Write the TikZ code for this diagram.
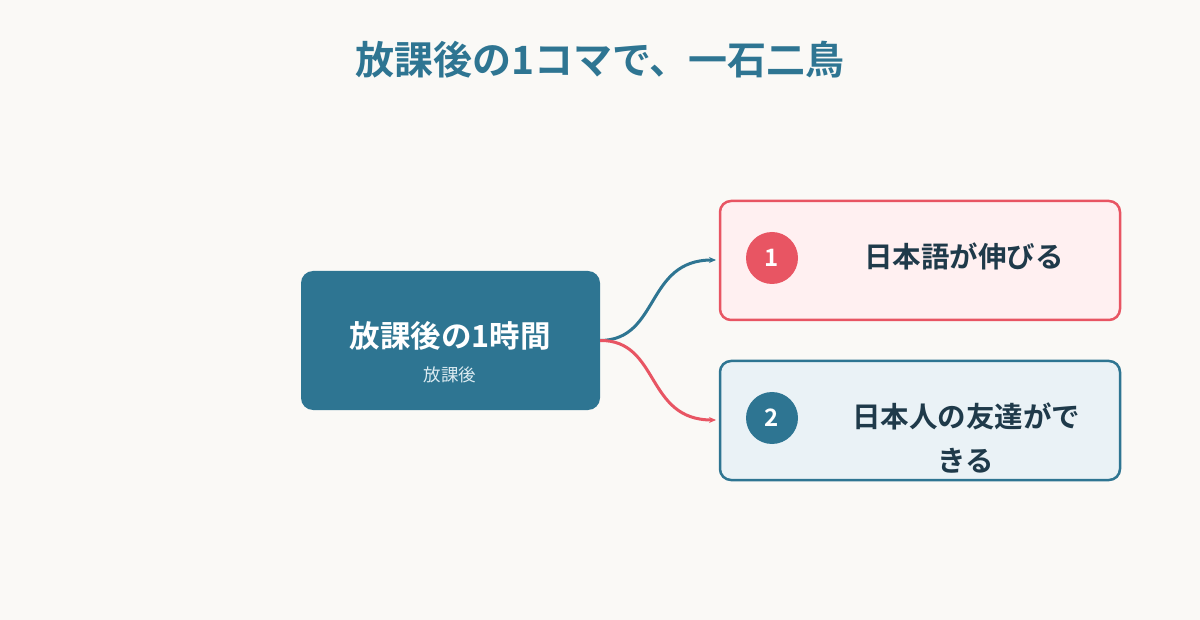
\documentclass[tikz,border=0pt]{standalone}
\usepackage{fontspec}
\newfontfamily\jp{Noto Sans CJK JP}[BoldFont={* Bold}]
\usetikzlibrary{arrows.meta}
\definecolor{bg}{HTML}{FAF9F6}
\definecolor{teal}{HTML}{2E7592}
\definecolor{red}{HTML}{E85563}
\definecolor{pinkfill}{HTML}{FFF0F1}
\definecolor{bluefill}{HTML}{EAF2F6}
\definecolor{ink}{HTML}{1F3A4A}
\definecolor{subtxt}{HTML}{DCEBF1}
\tikzset{
  mainbox/.style={fill=teal, rounded corners=12pt, minimum width=299pt, minimum height=139pt, inner sep=0pt},
  itembox/.style={line width=2.5pt, rounded corners=11pt, minimum width=400pt, minimum height=119pt, inner sep=0pt},
  badge/.style={circle, minimum size=52pt, inner sep=0pt, text=white, font=\jp\bfseries\fontsize{24}{28}\selectfont},
  itemtext/.style={text=ink, align=center, font=\jp\bfseries\fontsize{28.5}{44}\selectfont},
  conn/.style={line width=3pt, -{Stealth[length=7pt,width=6pt]}}
}
\begin{document}
\begin{tikzpicture}[x=1pt,y=-1pt]
\fill[bg] (0,0) rectangle (1200,620);
\useasboundingbox (0,0) rectangle (1200,620);
\node[text=teal, font=\jp\bfseries\fontsize{39}{46}\selectfont] (title) at (600,60) {放課後の1コマで、一石二鳥};
\node[mainbox] (main) at (450.5,340.5) {};
\node[text=white, font=\jp\bfseries\fontsize{30.5}{36}\selectfont] (maint) at (450,336) {放課後の1時間};
\node[text=subtxt, font=\jp\fontsize{17.5}{20}\selectfont] (mains) at (450,375) {放課後};
\node[itembox, draw=red, fill=pinkfill] (b1) at (920,260.5) {};
\node[itembox, draw=teal, fill=bluefill] (b2) at (920,420.5) {};
\node[badge, fill=red] (c1) at (772,258) {1};
\node[badge, fill=teal] (c2) at (772,418) {2};
\node[itemtext] (t1) at (964,256) {日本語が伸びる};
\node[itemtext] (t2) at (966,438) {日本人の友達がで\\きる};
\coordinate (a1) at (716,260);
\coordinate (a2) at (716,420);
\draw[conn, teal] (main.east) .. controls (660,340) and (645,260) .. (a1);
\draw[conn, red] (main.east) .. controls (660,340) and (645,420) .. (a2);
\end{tikzpicture}
\end{document}
